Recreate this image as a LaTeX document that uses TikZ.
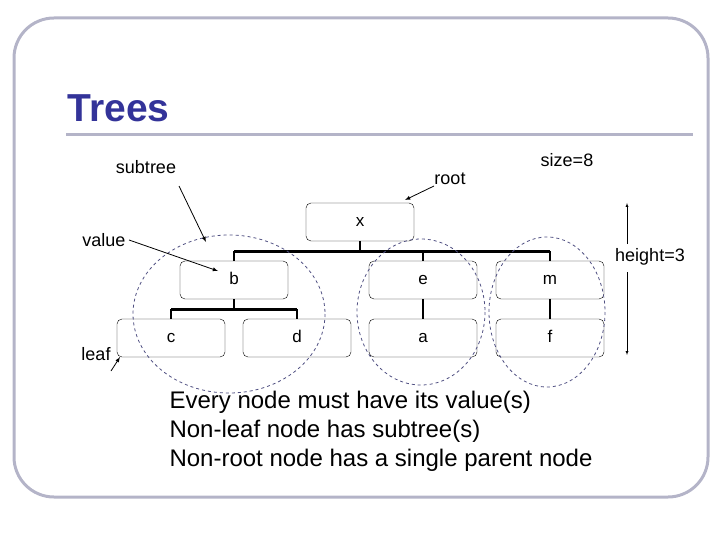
\documentclass[tikz,border=0pt]{standalone}
\usepackage{fontspec}
\setmainfont{Liberation Sans}
\usetikzlibrary{positioning}
\definecolor{titleblue}{RGB}{51,51,153}
\definecolor{framegray}{RGB}{180,180,200}
\definecolor{dashblue}{RGB}{80,80,130}

\begin{document}
\begin{tikzpicture}[x=1pt,y=-1pt,
    tnode/.style={draw,rounded corners=5pt,minimum width=108pt,minimum height=38pt,
      text height=12pt,text depth=3pt,font=\fontsize{17}{20}\selectfont},
    lbl/.style={font=\fontsize{18}{21}\selectfont},
    bar/.style={line width=2.8pt},
    sub/.style={draw=dashblue,dashed,thick}]
  \useasboundingbox (0,0) rectangle (720,540);
  \draw[framegray,line width=3pt,rounded corners=40pt] (14,18) rectangle (708,497);
  \node[font=\bfseries\fontsize{39}{44}\selectfont,text=titleblue,anchor=west] (title) at (64,108) {Trees};
  \draw[framegray,line width=3pt] (66,135) -- (693,135);
  % tree nodes
  \node[tnode] (x) at (360,222) {x};
  \node[tnode] (b) at (234,280) {b};
  \node[tnode] (e) at (423,280) {e};
  \node[tnode] (m) at (550,280) {m};
  \node[tnode] (c) at (171,338) {c};
  \node[tnode] (d) at (297,338) {d};
  \node[tnode] (a) at (423,338) {a};
  \node[tnode] (f) at (550,338) {f};
  \draw[bar] (x.south) -- ++(0,10) coordinate (xj);
  \draw[bar] (b.north |- xj) -- (m.north |- xj);
  \foreach \n in {b,e,m} \draw[bar] (\n.north |- xj) -- (\n.north);
  \draw[bar] (b.south) -- ++(0,10) coordinate (bj);
  \draw[bar] (c.north |- bj) -- (d.north |- bj);
  \foreach \n in {c,d} \draw[bar] (\n.north |- bj) -- (\n.north);
  \draw[bar] (e) -- (a);
  \draw[bar] (m) -- (f);
  % subtrees
  \draw[sub] (229,314) ellipse (96 and 79);
  \draw[sub] (421,312) ellipse (64 and 73);
  \draw[sub] (547,312) ellipse (58 and 75);
  % labels
  \node[lbl] (subtree) at (146,167) {subtree};
  \node[lbl] (root) at (450,179) {root};
  \node[lbl] (size) at (567,160) {size=8};
  \node[lbl] (value) at (104,240) {value};
  \node[lbl] (leaf) at (96,354) {leaf};
  \node[lbl] (height) at (650,257) {height=3};
  \coordinate (subtip) at (206,242);
  \coordinate (valtip) at (218,271);
  \coordinate (roottip) at (405,200);
  \coordinate (leaftip) at (120,357);
  \coordinate (htop) at (627,203);
  \coordinate (hbot) at (627,355);
  \draw[-latex,thick] (179,186) -- (subtip);
  \draw[-latex,thick] (value.east) -- (valtip);
  \draw[-latex,thick] (434,186) -- (roottip);
  \draw[-latex,thick] (111,371) -- (leaftip);
  \draw[-latex] (627,244) -- (htop);
  \draw[-latex] (627,272) -- (hbot);
  \node[font=\fontsize{24}{29}\selectfont,align=left,anchor=north west] (rules) at (166,388)
    {Every node must have its value(s)\\Non-leaf node has subtree(s)\\Non-root node has a single parent node};
\end{tikzpicture}
\end{document}
